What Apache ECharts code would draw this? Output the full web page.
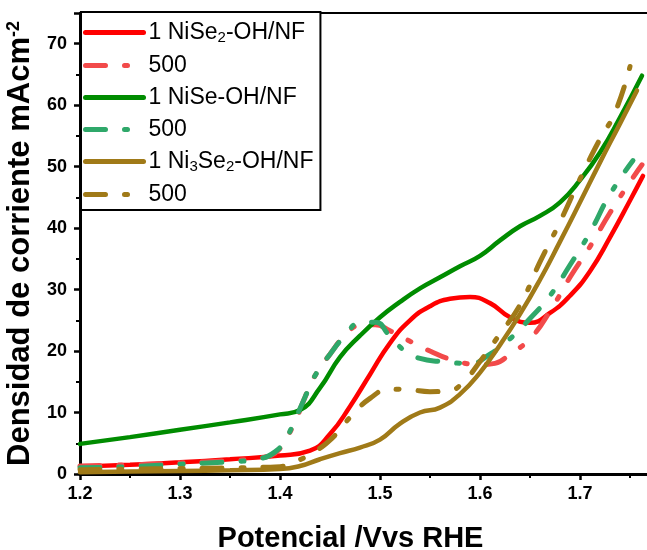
<!DOCTYPE html>
<html>
<head>
<meta charset="utf-8">
<script src="https://cdn.jsdelivr.net/npm/echarts@6/dist/echarts.min.js"></script>
<style>
  html, body { margin: 0; padding: 0; background: #fff; }
  #main { width: 647px; height: 550px; }
</style>
</head>
<body>
<div id="main"></div>
<script>
// curvas: [potencial V vs RHE, densidad mA cm-2]
const niSe2 = [[1.2,1.2],[1.25,1.5],[1.3,1.9],[1.35,2.4],[1.4,3.0],[1.43,3.8],[1.45,6.5],[1.47,11],[1.49,16.2],[1.51,21.3],[1.53,25],[1.55,27.3],[1.57,28.5],[1.59,28.8],[1.61,27.8],[1.63,25.5],[1.65,24.6],[1.67,26.2],[1.69,29],[1.71,33],[1.73,38.5],[1.75,44.5],[1.763,48.5]];
const niSe2_500 = [[1.2,1.3],[1.25,1.5],[1.3,1.8],[1.35,2.2],[1.38,2.6],[1.395,3.4],[1.405,5.5],[1.415,8.5],[1.425,12.5],[1.435,16],[1.45,19.5],[1.465,22.5],[1.48,24.2],[1.495,24.3],[1.51,23.3],[1.53,21.6],[1.55,20],[1.57,18.7],[1.6,17.8],[1.615,18],[1.63,19.5],[1.65,22],[1.67,26.5],[1.69,32],[1.71,37],[1.73,42.5],[1.75,47.5],[1.762,50.3]];
const niSe = [[1.2,4.9],[1.25,6],[1.3,7.2],[1.35,8.4],[1.4,9.7],[1.42,10.4],[1.44,14],[1.46,19],[1.48,22.5],[1.5,25.5],[1.52,28],[1.54,30.2],[1.56,32],[1.58,33.8],[1.6,35.5],[1.62,38],[1.64,40.3],[1.66,42],[1.68,44.2],[1.7,47.8],[1.72,52.3],[1.74,58],[1.762,64.8]];
const niSe_500 = [[1.2,1.0],[1.25,1.2],[1.3,1.6],[1.35,2.0],[1.38,2.5],[1.395,3.6],[1.405,5.5],[1.415,8.8],[1.425,12.5],[1.435,16],[1.45,19.5],[1.465,22.5],[1.48,24.6],[1.495,24.7],[1.51,22.4],[1.525,20],[1.54,18.8],[1.56,18.3],[1.59,18],[1.61,19.5],[1.63,22],[1.65,25.3],[1.67,29],[1.69,34],[1.71,39.3],[1.73,45.5],[1.753,51]];
const ni3Se2 = [[1.2,0.3],[1.25,0.4],[1.3,0.5],[1.35,0.6],[1.4,0.8],[1.42,1.3],[1.44,2.4],[1.46,3.4],[1.48,4.3],[1.5,5.6],[1.52,8.2],[1.54,10],[1.56,10.8],[1.58,13],[1.6,16.5],[1.62,21],[1.64,26],[1.66,31.6],[1.68,37.8],[1.7,44.2],[1.72,50.7],[1.74,57],[1.757,62.4]];
const ni3Se2_500 = [[1.2,0.7],[1.25,0.8],[1.3,0.9],[1.35,1.0],[1.4,1.2],[1.415,2],[1.43,3.2],[1.45,5.5],[1.47,9.2],[1.49,12.3],[1.51,13.8],[1.53,13.7],[1.55,13.4],[1.57,13.6],[1.585,15.3],[1.6,18.3],[1.62,22.8],[1.64,27.5],[1.66,34.5],[1.68,41],[1.7,48],[1.72,54.5],[1.735,58.8],[1.75,66.3]];

// nombres de leyenda (los "500" necesitan clave unica)
const names = ["s1", "s1b", "s2", "s2b", "s3", "s3b"];
const labels = {
  s1: "1 NiSe{sub|2}-OH/NF",
  s1b: "500",
  s2: "1 NiSe-OH/NF",
  s2b: "500",
  s3: "1 Ni{sub|3}Se{sub|2}-OH/NF",
  s3b: "500",
};

const font = "'Liberation Sans', Arial, sans-serif";
const dash = [20, 19, 3, 19];

function curve(name, data, color, dashed) {
  return {
    name: name,
    type: "line",
    data: data,
    smooth: true,
    symbol: "none",
    lineStyle: {
      color: color,
      width: dashed ? 5 : 4.5,
      type: dashed ? dash : "solid",
      cap: "round",
    },
    itemStyle: { color: color },
  };
}

const myChart = echarts.init(document.getElementById("main"));
myChart.setOption({
  animation: false,
  backgroundColor: "#fff",
  grid: {
    left: 80,
    right: -8,
    top: 13,
    bottom: 76,
    outerBoundsMode: "none",
    show: true,
    borderColor: "#000",
    borderWidth: 2,
  },
  legend: {
    // sin simbolo: solo la linea en la muestra
    data: names.map((n) => ({
      name: n,
      itemStyle: { opacity: 0 },
      lineStyle: { width: 5, cap: "round" },
    })),
    orient: "vertical",
    left: 81,
    top: 12,
    padding: [9, 7, 4, 2],
    itemGap: 9,
    itemWidth: 58,
    itemHeight: 14,
    borderColor: "#000",
    borderWidth: 2,
    backgroundColor: "#fff",
    formatter: (n) => labels[n],
    textStyle: {
      fontFamily: font,
      fontSize: 23,
      color: "#000",
      width: 172,
      rich: {
        sub: { fontSize: 15, fontFamily: font, color: "#000", padding: [10, 0, 0, 0] },
      },
    },
  },
  xAxis: {
    type: "value",
    min: 1.2,
    max: 1.775,
    interval: 0.1,
    name: "Potencial /Vvs RHE",
    nameLocation: "middle",
    nameGap: 50,
    nameTextStyle: {
      fontFamily: font,
      fontSize: 29,
      fontWeight: "bold",
      color: "#000",
      padding: [0, 34, 0, 0],
    },
    axisLine: { lineStyle: { color: "#000", width: 3 } },
    axisTick: { length: 6, lineStyle: { color: "#000", width: 2.5 } },
    minorTick: { show: true, splitNumber: 2, length: 4, lineStyle: { color: "#000", width: 2 } },
    splitLine: { show: false },
    axisLabel: {
      showMaxLabel: false,
      margin: 11,
      fontFamily: font,
      fontSize: 18,
      fontWeight: "bold",
      color: "#000",
      formatter: (v) => v.toFixed(1),
    },
  },
  yAxis: {
    type: "value",
    min: 0,
    max: 75,
    interval: 10,
    name: "Densidad de corriente mAcm{sup|-2}",
    nameLocation: "middle",
    nameGap: 43,
    nameTextStyle: {
      fontFamily: font,
      fontSize: 31,
      fontWeight: "bold",
      color: "#000",
      rich: {
        sup: { fontFamily: font, fontSize: 18, fontWeight: "bold", color: "#000", padding: [0, 0, 13, 0] },
      },
    },
    axisLine: { show: true, lineStyle: { color: "#000", width: 3 } },
    axisTick: { show: true, length: 6, lineStyle: { color: "#000", width: 2.5 } },
    minorTick: { show: true, splitNumber: 2, length: 4, lineStyle: { color: "#000", width: 2 } },
    splitLine: { show: false },
    axisLabel: {
      showMaxLabel: false,
      margin: 13,
      fontFamily: font,
      fontSize: 18,
      fontWeight: "bold",
      color: "#000",
    },
  },
  series: [
    curve("s1", niSe2, "#ff0000", false),
    curve("s1b", niSe2_500, "#f24a4a", true),
    curve("s2", niSe, "#008c00", false),
    curve("s2b", niSe_500, "#2fa86a", true),
    curve("s3", ni3Se2, "#a07a18", false),
    curve("s3b", ni3Se2_500, "#a07a18", true),
  ],
});
</script>
</body>
</html>
